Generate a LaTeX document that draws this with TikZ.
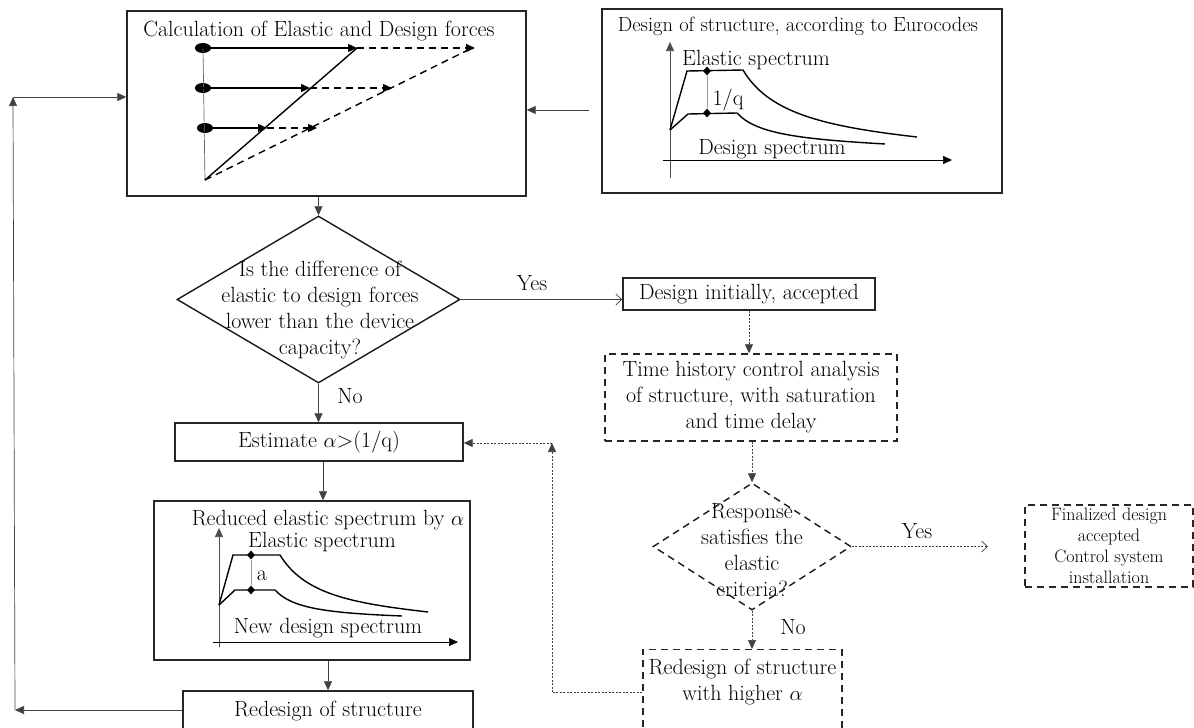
\documentclass[tikz,border=0pt]{standalone}
\usetikzlibrary{arrows.meta,shapes.geometric}
\begin{document}
\begin{tikzpicture}[x=1pt,y=-1pt,
  every node/.style={font=\fontsize{22}{26}\selectfont, inner sep=0pt},
  sbox/.style={draw=black!85, line width=1.4pt},
  dbox/.style={draw=black!85, line width=1.4pt, dash pattern=on 7pt off 5pt},
  conn/.style={draw=black!75, line width=0.7pt, -{Triangle[length=9pt,width=8pt]}},
  dconn/.style={conn, dash pattern=on 2pt off 1.5pt},
  oconn/.style={draw=black!75, line width=0.7pt, -{Straight Barb[length=6pt,width=11pt]}},
  doconn/.style={oconn, dash pattern=on 2pt off 1.5pt},
  thick2/.style={line width=1.4pt},
  dsh/.style={line width=1.4pt, dash pattern=on 7pt off 5pt},
  tip/.style={-{Triangle[length=9pt,width=8pt]}},
  ax/.style={draw=black!60, line width=0.7pt},
  mk/.style={diamond, fill, minimum width=8pt, minimum height=9pt},
  dot/.style={ellipse, fill, minimum width=16pt, minimum height=10pt},
  small/.style={font=\fontsize{18}{21}\selectfont}
]
\useasboundingbox (0,0) rectangle (1194,728);
\clip (0,0) rectangle (1194,728);

% ---------- Box 1: Calculation of elastic and design forces
\node[sbox, minimum width=399pt, minimum height=185pt] (b1) at (326.5,103.5) {};
\node (b1t) at (319,31) {Calculation of Elastic and Design forces};
\node[dot] (p1) at (203,48) {};
\node[dot] (p2) at (203,88) {};
\node[dot] (p3) at (205,128) {};
\coordinate (o1) at (205,180);
\draw[ax] (p1.center) -- (o1);
\coordinate (s1) at (357,48);
\coordinate (s2) at (310,88);
\coordinate (s3) at (267,128);
\coordinate (f1) at (475,48);
\coordinate (f2) at (392,88);
\coordinate (f3) at (317,128);
\coordinate (fd) at (466,51);
\draw[thick2, tip] (p1.center) -- (s1);
\draw[thick2, tip] (p2.center) -- (s2);
\draw[thick2, tip] (p3.center) -- (s3);
\draw[thick2] (o1) -- (s1);
\draw[dsh, tip] (s1) -- (f1);
\draw[dsh, tip] (s2) -- (f2);
\draw[dsh, tip] (s3) -- (f3);
\draw[dsh] (o1) -- (fd);

% ---------- Box 2: Design of structure
\node[sbox, minimum width=400pt, minimum height=184pt] (b2) at (802,101) {};
\node[font=\fontsize{20.5}{26}\selectfont] (b2t) at (798,26) {Design of structure, according to Eurocodes};
\coordinate (v2b) at (670,178);
\coordinate (v2t) at (670,42);
\coordinate (h2l) at (663,160);
\coordinate (h2r) at (952,160);
\draw[ax, tip, draw=black!70] (v2b) -- (v2t);
\draw[line width=0.7pt, tip] (h2l) -- (h2r);
\draw[thick2] (670,130) -- (687,71) -- (743,70) .. controls (768,112) and (820,126) .. (917,137);
\draw[thick2] (670,130) -- (688,114) -- (737,113) .. controls (756,134) and (800,139) .. (885,144);
\node[mk] (e1) at (707,71) {};
\node[mk] (e2) at (707,113) {};
\draw[ax, draw=black!40] (e1) -- (e2);
\node (b2e) at (756,60) {Elastic spectrum};
\node (b2q) at (728,100) {1/q};
\node (b2d) at (772,149) {Design spectrum};

% ---------- Decision 1
\node[draw=black!90, line width=1.4pt, diamond, minimum width=283pt, minimum height=167pt] (d1) at (318.5,299.5) {};
\node[align=center] (d1t) at (320,310) {Is the difference of\\elastic to design forces\\lower than the device\\capacity?};

% ---------- Estimate
\node[sbox, minimum width=288pt, minimum height=38pt] (est) at (319,442) {Estimate $\alpha$>(1/q)};

% ---------- Reduced spectrum box
\node[sbox, minimum width=316pt, minimum height=159pt] (red) at (312,580.5) {};
\node (redt) at (328,520) {Reduced elastic spectrum by $\alpha$};
\coordinate (v3b) at (219,647);
\coordinate (v3t) at (219,528);
\coordinate (h3l) at (213,642);
\coordinate (h3r) at (458,642);
\draw[ax, tip, draw=black!70] (v3b) -- (v3t);
\draw[line width=0.7pt, tip] (h3l) -- (h3r);
\draw[thick2] (219,605) -- (233,555) -- (280,555) .. controls (304,594) and (350,603) .. (428,612);
\draw[thick2] (219,605) -- (235,590) -- (275,590) .. controls (292,609) and (330,613) .. (402,616);
\node[mk] (e3) at (251,555) {};
\node[mk] (e4) at (251,590) {};
\draw[ax, draw=black!40] (e3) -- (e4);
\node (rede) at (322,542) {Elastic spectrum};
\node (reda) at (262,576) {a};
\node (redd) at (328,628) {New design spectrum};

% ---------- Redesign of structure
\node[sbox, minimum width=290pt, minimum height=40pt] (rd) at (328,711) {Redesign of structure};

% ---------- Right column
\node[sbox, minimum width=252pt, minimum height=32pt] (di) at (749,294) {Design initially, accepted};
\node[dbox, minimum width=292pt, minimum height=87pt, align=center] (th) at (751,397.5)
  {Time history control analysis\\of structure, with saturation\\and time delay};
\node[draw=black!90, line width=1.4pt, dash pattern=on 7pt off 5pt, diamond, minimum width=198pt, minimum height=127pt] (d2) at (752,546.5) {};
\node[align=center] (d2t) at (752,550) {Response\\satisfies the\\elastic\\criteria?};
\node[dbox, small, minimum width=168pt, minimum height=82pt, align=center] (fin) at (1109,546)
  {Finalized design\\accepted\\Control system\\installation};
\node[dbox, minimum width=199pt, anchor=north, inner ysep=9pt, text depth=60pt, align=center] (rh) at (742.5,649)
  {Redesign of structure\\with higher $\alpha$};

% ---------- Connectors
\draw[conn] (d1.north |- b1.south) -- (d1.north);
\draw[oconn] (d1.east) -- (d1.east -| di.west);
\node (yes1) at (532,283) {Yes};
\draw[conn] (d1.south) -- (d1.south |- est.north);
\node (no1) at (350,396) {No};
\coordinate (ex) at (323,0);
\draw[conn] (est.south -| ex) -- (red.north -| ex);
\draw[conn] (rd.north |- red.south) -- (rd.north);

\coordinate (lb) at (15,710);
\coordinate (lt) at (13,97);
\draw[conn] (rd.west |- lb) -- (lb);
\draw[conn] (lb) -- (lt);
\draw[conn] (lt) -- (b1.west |- lt);

\coordinate (m12) at (589,110);
\draw[conn] (m12) -- (b1.east |- m12);

\draw[dconn] (di.south) -- (di.south |- th.north);
\draw[dconn] (th.south -| d2.north) -- (d2.north);
\coordinate (ye) at (988,0);
\draw[doconn] (d2.east) -- (d2.east -| ye);
\node (yes2) at (917,531) {Yes};
\draw[dconn] (d2.south) -- (d2.south |- rh.north);
\node (no2) at (793,627) {No};

\coordinate (rv) at (552,443);
\coordinate (rvb) at (552,692);
\draw[dconn, -] (rh.west |- rvb) -- (rvb);
\draw[dconn] (rvb) -- (rv);
\draw[dconn] (rv) -- (est.east |- rv);
\end{tikzpicture}
\end{document}
